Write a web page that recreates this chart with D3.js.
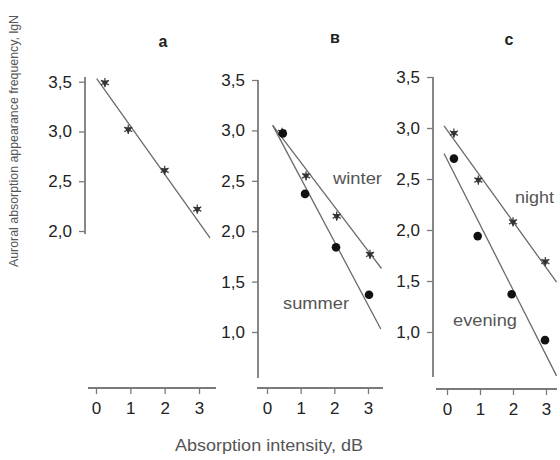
<!DOCTYPE html>
<html><head><meta charset="utf-8">
<script src="https://cdn.jsdelivr.net/npm/d3@7"></script>
<style>body{margin:0;background:#fff}svg{display:block}text{font-family:"Liberation Sans",Arial,sans-serif}</style>
</head><body><svg id="c" width="560" height="460"></svg>
<script>
// ---- data ----
const xTicks = [0, 1, 2, 3];
const yTicksA = [2.0, 2.5, 3.0, 3.5];
const yTicksBC = [1.0, 1.5, 2.0, 2.5, 3.0, 3.5];
const panelTitles = ["a", "в", "c"];
const seriesNames = ["winter", "summer", "night", "evening"];

const aStars = [[0.26, 3.49], [0.94, 3.02], [2.0, 2.61], [2.95, 2.22]];
const aLine = [[0.02, 3.53], [3.32, 1.93]];

const bWinter = [[0.45, 2.98], [1.16, 2.55], [2.07, 2.15], [3.06, 1.77]];
const bSummer = [[0.47, 2.97], [1.13, 2.37], [2.05, 1.84], [3.03, 1.37]];
const bWinterLine = [[0.17, 3.05], [3.40, 1.63]];
const bSummerLine = [[0.17, 3.05], [3.38, 1.03]];

const cNight = [[0.21, 2.95], [0.95, 2.49], [2.0, 2.08], [2.98, 1.69]];
const cEvening = [[0.21, 2.70], [0.93, 1.94], [1.96, 1.37], [2.97, 0.92]];
const cNightLine = [[-0.09, 3.02], [3.32, 1.49]];
const cEveningLine = [[-0.09, 2.75], [3.32, 0.57]];

// ---- drawing ----
const svg = d3.select("#c");
const fmt = v => d3.format(".1f")(v).replace(".", ",");
const axisCol = "#7a7a7a", lineCol = "#6a6a6a", textCol = "#222";

function panel(o) {
  const x = d3.scaleLinear().domain([0, 3]).range(o.xr);
  const y = d3.scaleLinear().domain(o.yd).range(o.yr);
  const g = svg.append("g");
  // y axis
  const ya = g.append("g").attr("transform", `translate(${o.ax},0)`)
    .call(d3.axisLeft(y).tickValues(o.yt).tickFormat(fmt).tickSize(6).tickPadding(7));
  ya.select(".domain").remove();
  ya.selectAll("line").attr("stroke", axisCol).attr("stroke-width", 1.3);
  ya.selectAll("text").attr("font-size", 17).attr("fill", textCol);
  g.append("line").attr("x1", o.ax).attr("x2", o.ax).attr("y1", o.yl[0]).attr("y2", o.yl[1])
    .attr("stroke", axisCol).attr("stroke-width", 1.8);
  // x axis
  const xa = g.append("g").attr("transform", `translate(0,${o.ay})`)
    .call(d3.axisBottom(x).tickValues(xTicks).tickFormat(d3.format("d")).tickSize(6).tickPadding(8));
  xa.select(".domain").remove();
  xa.selectAll("line").attr("stroke", axisCol).attr("stroke-width", 1.3);
  xa.selectAll("text").attr("font-size", 17).attr("fill", textCol);
  g.append("line").attr("y1", o.ay).attr("y2", o.ay).attr("x1", o.xl[0]).attr("x2", o.xl[1])
    .attr("stroke", axisCol).attr("stroke-width", 1.8);
  // title
  g.append("text").attr("x", o.tx).attr("y", o.ty).attr("text-anchor", "middle")
    .attr("font-size", 16).attr("font-weight", "bold").attr("fill", textCol).text(o.title);
  // fit lines
  const ln = d3.line().x(d => x(d[0])).y(d => y(d[1]));
  o.lines.forEach(l => g.append("path").attr("d", ln(l)).attr("fill", "none")
    .attr("stroke", lineCol).attr("stroke-width", 1.3));
  // points
  o.series.forEach(s => {
    if (s.type === "circle") {
      g.selectAll(null).data(s.data).join("circle")
        .attr("cx", d => x(d[0])).attr("cy", d => y(d[1])).attr("r", 4.3).attr("fill", "#111");
    } else {
      const sg = g.selectAll(null).data(s.data).join("g")
        .attr("transform", d => `translate(${x(d[0])},${y(d[1])})`);
      sg.append("path").attr("d", d3.symbol(d3.symbolAsterisk, 60)())
        .attr("stroke", "#444").attr("stroke-width", 1.3).attr("fill", "none");
      sg.append("path").attr("d", d3.symbol(d3.symbolTriangle, 24)())
        .attr("transform", "rotate(180)").attr("fill", "#333");
    }
  });
  // series labels
  (o.labels || []).forEach(L => g.append("text").attr("x", L.x).attr("y", L.y)
    .attr("font-size", 17).attr("fill", "#555").attr("textLength", L.w)
    .attr("lengthAdjust", "spacingAndGlyphs").text(L.t));
}

panel({
  title: panelTitles[0], tx: 163, ty: 47,
  xr: [96, 199], ay: 388, xl: [88, 216],
  yd: [2.0, 3.5], yr: [231, 81.7], ax: 85, yl: [77, 234], yt: yTicksA,
  lines: [aLine],
  series: [{ type: "star", data: aStars }]
});
panel({
  title: panelTitles[1], tx: 335, ty: 43,
  xr: [267, 368], ay: 388, xl: [257, 383],
  yd: [1.0, 3.5], yr: [332, 80], ax: 258, yl: [80, 378], yt: yTicksBC,
  lines: [bWinterLine, bSummerLine],
  series: [{ type: "star", data: bWinter }, { type: "circle", data: bSummer }],
  labels: [{ t: seriesNames[0], x: 333, y: 184, w: 49 }, { t: seriesNames[1], x: 283, y: 309, w: 66 }]
});
panel({
  title: panelTitles[2], tx: 509, ty: 45,
  xr: [447, 546], ay: 389, xl: [436, 557],
  yd: [1.0, 3.5], yr: [332, 77], ax: 433, yl: [77, 377], yt: yTicksBC,
  lines: [cNightLine, cEveningLine],
  series: [{ type: "star", data: cNight }, { type: "circle", data: cEvening }],
  labels: [{ t: seriesNames[2], x: 515, y: 203, w: 39 }, { t: seriesNames[3], x: 453, y: 326, w: 64 }]
});

// axis titles
svg.append("text").attr("x", 269).attr("y", 451).attr("text-anchor", "middle")
  .attr("font-size", 16).attr("fill", "#555").attr("textLength", 188).attr("lengthAdjust", "spacingAndGlyphs")
  .text("Absorption intensity, dB");
svg.append("text").attr("transform", "translate(18,141) rotate(-90)").attr("text-anchor", "middle")
  .attr("font-size", 12.5).attr("fill", "#555").attr("textLength", 252).attr("lengthAdjust", "spacingAndGlyphs")
  .text("Auroral absorption appearance frequency, lgN");
</script></body></html>
